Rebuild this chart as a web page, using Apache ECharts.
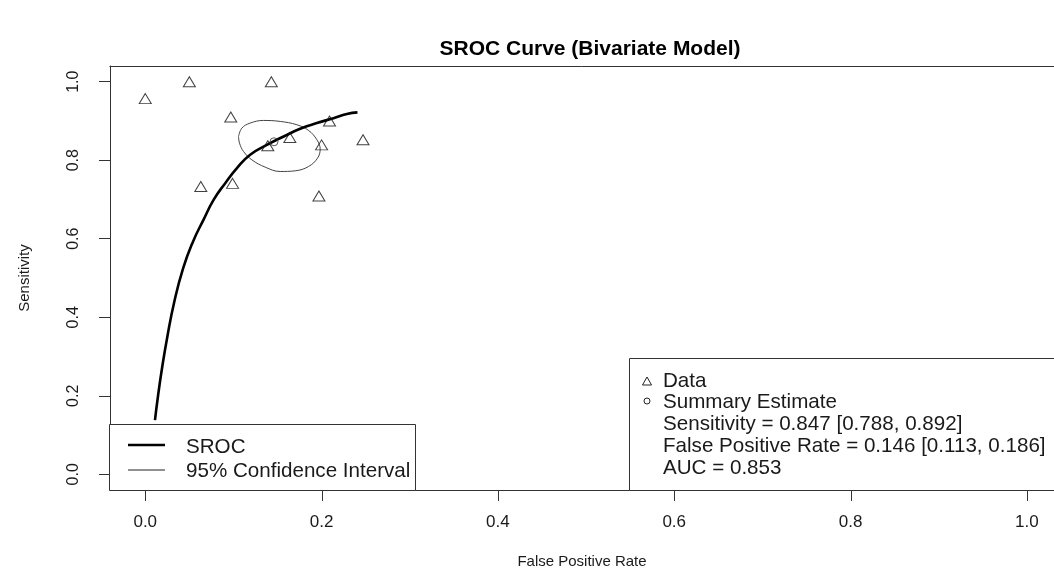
<!DOCTYPE html>
<html>
<head>
<meta charset="utf-8">
<script src="https://cdn.jsdelivr.net/npm/echarts@6/dist/echarts.min.js"></script>
<style>
  html, body { margin: 0; padding: 0; background: #fff; }
  #chart { width: 1054px; height: 577px; }
</style>
</head>
<body>
<div id="chart"></div>
<script>
// Study-level points: false positive rate (x) and sensitivity (y)
const studyFPR  = [0.000, 0.050, 0.143, 0.097, 0.209, 0.247, 0.164, 0.200, 0.139, 0.063, 0.099, 0.197];
const studySens = [0.957, 1.000, 1.000, 0.910, 0.900, 0.852, 0.858, 0.839, 0.837, 0.733, 0.741, 0.709];

// Summary estimate of the bivariate model
const summaryFPR = 0.146;
const summarySens = 0.847;

// SROC curve as read along its length
const srocFPR  = [0.011, 0.0145, 0.019, 0.025, 0.033, 0.043, 0.054, 0.066, 0.0775, 0.0907, 0.104, 0.119, 0.138, 0.157, 0.1757, 0.1947, 0.2135, 0.2287, 0.2407];
const srocSens = [0.138, 0.200, 0.270, 0.350, 0.440, 0.525, 0.592, 0.648, 0.699, 0.7415, 0.780, 0.814, 0.839, 0.8605, 0.880, 0.8946, 0.907, 0.9176, 0.9218];

// 95% confidence region outline around the summary estimate
const ciFPR  = [0.1058, 0.1096, 0.1190, 0.1341, 0.1531, 0.1720, 0.1852, 0.1947, 0.1984, 0.1954, 0.1852, 0.1701, 0.1531, 0.1361, 0.1209, 0.1115, 0.1069, 0.1058];
const ciSens = [0.8605, 0.8818, 0.8946, 0.9013, 0.8988, 0.8903, 0.8759, 0.8520, 0.8282, 0.8053, 0.7840, 0.7730, 0.7713, 0.7823, 0.8010, 0.8222, 0.8436, 0.8605];

// Axis tick values
const xTicks = [0, 0.2, 0.4, 0.6, 0.8, 1.0];
const yTicks = [0, 0.2, 0.4, 0.6, 0.8, 1.0];

// Legend text
const legendLeft = ['SROC', '95% Confidence Interval'];
const legendRight = [
  'Data',
  'Summary Estimate',
  'Sensitivity = 0.847 [0.788, 0.892]',
  'False Positive Rate = 0.146 [0.113, 0.186]',
  'AUC = 0.853'
];

const FONT = '"Liberation Sans", Arial, Helvetica, sans-serif';
const INK = '#1a1a1a';
const FRAME = '#333';
const TICK_LEN = 11;

const zip = (a, b) => a.map((v, i) => [v, b[i]]);

const chart = echarts.init(document.getElementById('chart'), null, { renderer: 'canvas' });

const legendTextStyle = { fontFamily: FONT, fontSize: 20.6, fill: INK, textVerticalAlign: 'middle', textAlign: 'left' };

const graphics = [
  // top edge of the plot frame
  { type: 'line', shape: { x1: 109.5, y1: 66.5, x2: 1054, y2: 66.5 }, style: { stroke: FRAME, lineWidth: 1 }, z: 9 },
  // left legend box
  { type: 'rect', shape: { x: 109.5, y: 424.5, width: 306, height: 66 }, style: { fill: '#fff', stroke: FRAME, lineWidth: 1 }, z: 10 },
  { type: 'line', shape: { x1: 128, y1: 445, x2: 165, y2: 445 }, style: { stroke: '#000', lineWidth: 2.6 }, z: 11 },
  { type: 'line', shape: { x1: 128, y1: 470, x2: 165, y2: 470 }, style: { stroke: '#222', lineWidth: 1 }, z: 11 },
  { type: 'text', x: 186, y: 447, style: Object.assign({ text: legendLeft[0] }, legendTextStyle), z: 11 },
  { type: 'text', x: 186, y: 471, style: Object.assign({ text: legendLeft[1] }, legendTextStyle), z: 11 },
  // right legend box
  { type: 'rect', shape: { x: 629.5, y: 358.5, width: 440, height: 132 }, style: { fill: '#fff', stroke: FRAME, lineWidth: 1 }, z: 10 },
  { type: 'polygon', shape: { points: [[647, 377], [651.5, 385], [642.5, 385]] }, style: { fill: 'none', stroke: '#222', lineWidth: 1 }, z: 11 },
  { type: 'circle', shape: { cx: 647, cy: 401, r: 3 }, style: { fill: 'none', stroke: '#222', lineWidth: 1 }, z: 11 }
];
const rightY = [381, 402, 424, 446, 468];
legendRight.forEach((t, i) => {
  graphics.push({ type: 'text', x: 663, y: rightY[i], style: Object.assign({ text: t }, legendTextStyle), z: 11 });
});

// the plot frame runs past the right edge of the canvas, so the x range
// continues slightly beyond 1.0 up to that edge
const X_MIN = -0.04, X_MAX = 1.0308, Y_MIN = -0.04, Y_MAX = 1.04;

chart.setOption({
  animation: false,
  backgroundColor: '#fff',
  title: {
    text: 'SROC Curve (Bivariate Model)',
    left: 585, top: 34, textAlign: 'center',
    textStyle: { fontFamily: FONT, fontSize: 21, fontWeight: 'bold', color: '#000' }
  },
  grid: { left: 110, right: 0, top: 66, bottom: 87, show: false, outerBoundsMode: 'none' },
  xAxis: {
    type: 'value', min: X_MIN, max: X_MAX, position: 'bottom',
    name: 'False Positive Rate', nameLocation: 'middle', nameGap: 64,
    nameTextStyle: { fontFamily: FONT, fontSize: 15, color: INK },
    axisLine: { show: true, onZero: false, lineStyle: { color: FRAME, width: 1 } },
    axisTick: { show: false },
    axisLabel: { margin: 24, fontFamily: FONT, fontSize: 17, color: INK, customValues: xTicks, formatter: v => v.toFixed(1) },
    splitLine: { show: false }
  },
  yAxis: {
    type: 'value', min: Y_MIN, max: Y_MAX,
    name: 'Sensitivity', nameLocation: 'middle', nameGap: 78,
    nameTextStyle: { fontFamily: FONT, fontSize: 15, color: INK },
    axisLine: { show: true, onZero: false, lineStyle: { color: FRAME, width: 1 } },
    axisTick: { show: true, length: TICK_LEN, inside: false, lineStyle: { color: FRAME }, customValues: yTicks },
    axisLabel: { margin: 28, rotate: 90, fontFamily: FONT, fontSize: 16, color: INK, customValues: yTicks, formatter: v => v.toFixed(1) },
    splitLine: { show: false }
  },
  series: [
    {
      // outward tick marks under the x axis
      name: 'xTicks', type: 'custom', data: xTicks.map(v => [v]),
      clip: false, silent: true, z: 1,
      renderItem: (params, api) => {
        const p = api.coord([api.value(0), Y_MIN]);
        const x = Math.round(p[0]) + 0.5;
        return {
          type: 'line',
          shape: { x1: x, y1: p[1], x2: x, y2: p[1] + TICK_LEN },
          style: { stroke: FRAME, lineWidth: 1 }
        };
      }
    },
    {
      name: 'SROC', type: 'line', data: zip(srocFPR, srocSens),
      showSymbol: false, smooth: 0.5,
      lineStyle: { color: '#000', width: 2.6 }, z: 3
    },
    {
      name: '95% Confidence Interval', type: 'line', data: zip(ciFPR, ciSens),
      showSymbol: false, smooth: 0.4,
      lineStyle: { color: '#444', width: 1 }, z: 2
    },
    {
      name: 'Data', type: 'scatter', data: zip(studyFPR, studySens),
      symbol: 'triangle', symbolSize: [12, 10],
      itemStyle: { color: 'rgba(255,255,255,0)', borderColor: '#111', borderWidth: 1 }, z: 4
    },
    {
      name: 'Summary Estimate', type: 'scatter', data: [[summaryFPR, summarySens]],
      symbol: 'circle', symbolSize: 8,
      itemStyle: { color: 'rgba(255,255,255,0)', borderColor: '#333', borderWidth: 1 }, z: 5
    }
  ],
  graphic: graphics
});
</script>
</body>
</html>
